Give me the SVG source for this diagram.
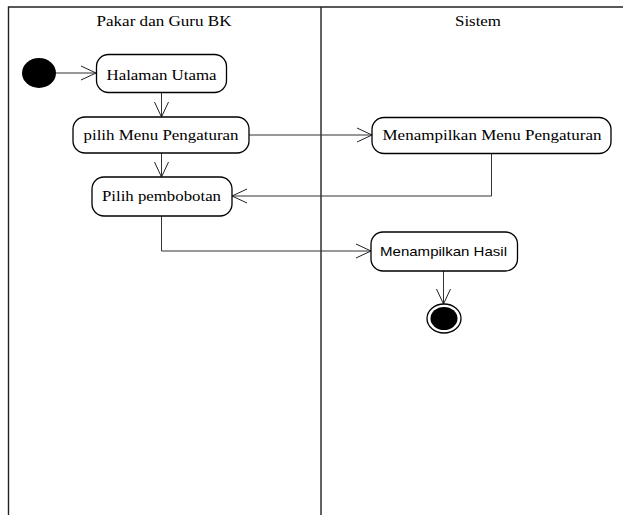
<svg xmlns="http://www.w3.org/2000/svg" width="623" height="515" viewBox="0 0 623 515">
  <style>
    .lane { stroke: #222; stroke-width: 1.4; fill: none; }
    .act { fill: #fff; stroke: #000; stroke-width: 1.3; }
    .serif { font-family: "Liberation Serif", "Times New Roman", serif; fill: #000; text-anchor: middle; }
    .sans { font-family: "Liberation Sans", Arial, sans-serif; fill: #000; text-anchor: middle; }
    .flow { stroke: #333; stroke-width: 1; fill: none; marker-end: url(#open); }
  </style>
  <defs>
    <!-- open V arrowhead for control flows -->
    <marker id="open" viewBox="0 0 18 18" refX="16" refY="9" markerWidth="18" markerHeight="18" markerUnits="userSpaceOnUse" orient="auto">
      <path d="M1,2 L16,9 L1,16" fill="none" stroke="#222" stroke-width="1"/>
    </marker>
  </defs>
  <rect width="623" height="515" fill="#fff"/>

  <!-- swimlanes -->
  <g id="lanes">
    <path class="lane" d="M8.5,515 V7 H623"/>
    <path class="lane" d="M321,7 V515"/>
    <text class="serif" x="164" y="26" font-size="14" textLength="135" lengthAdjust="spacingAndGlyphs">Pakar dan Guru BK</text>
    <text class="serif" x="478" y="26" font-size="14" textLength="46" lengthAdjust="spacingAndGlyphs">Sistem</text>
  </g>

  <!-- connectors -->
  <g id="connectors">
    <path class="flow" d="M56,73 H96"/>
    <path class="flow" d="M161.5,92 V117"/>
    <path class="flow" d="M161.5,153 V177"/>
    <path class="flow" d="M249,135 H372"/>
    <path class="flow" d="M491.5,153 V196 H232"/>
    <path class="flow" d="M161.5,216 V251 H371"/>
    <path class="flow" d="M443.5,271 V304"/>
  </g>

  <g id="start">
    <ellipse cx="39" cy="73" rx="17" ry="15" fill="#000"/>
  </g>

  <g id="halaman-utama">
    <rect class="act" x="96.5" y="54.5" width="130" height="38" rx="12"/>
    <text class="serif" x="161.5" y="79.5" font-size="15" textLength="110" lengthAdjust="spacingAndGlyphs">Halaman Utama</text>
  </g>

  <g id="pilih-menu">
    <rect class="act" x="73" y="117" width="176" height="36" rx="12"/>
    <text class="serif" x="161" y="140" font-size="15" textLength="155" lengthAdjust="spacingAndGlyphs">pilih Menu Pengaturan</text>
  </g>

  <g id="pilih-pembobotan">
    <rect class="act" x="92" y="177" width="140" height="39" rx="12"/>
    <text class="serif" x="161.5" y="201" font-size="15" textLength="119" lengthAdjust="spacingAndGlyphs">Pilih pembobotan</text>
  </g>

  <g id="menampilkan-menu">
    <rect class="act" x="372" y="117.5" width="239" height="36" rx="12"/>
    <text class="serif" x="492" y="140" font-size="15" textLength="219" lengthAdjust="spacingAndGlyphs">Menampilkan Menu Pengaturan</text>
  </g>

  <g id="menampilkan-hasil">
    <rect class="act" x="371" y="232" width="146.5" height="39" rx="12"/>
    <text class="sans" x="443.5" y="256" font-size="13" textLength="127" lengthAdjust="spacingAndGlyphs">Menampilkan Hasil</text>
  </g>

  <g id="end">
    <ellipse cx="444" cy="318.5" rx="17" ry="14.5" fill="#fff" stroke="#000" stroke-width="1.3"/>
    <ellipse cx="444" cy="318.5" rx="13.5" ry="11.5" fill="#000"/>
  </g>
</svg>
